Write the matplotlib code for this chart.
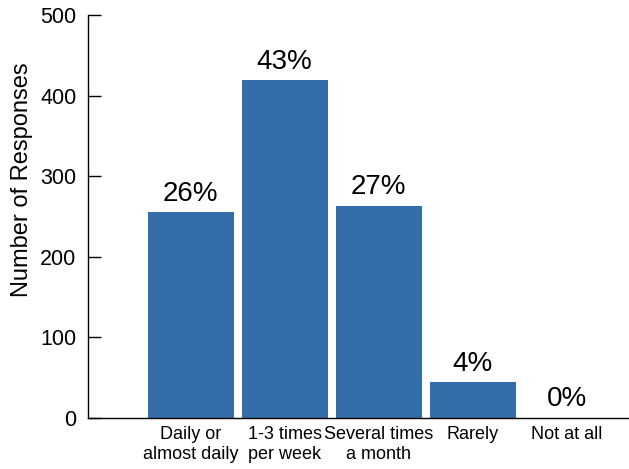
import matplotlib
matplotlib.use('Agg')
import matplotlib.pyplot as plt
import numpy as np

categories = ['Daily or\nalmost daily', '1-3 times\nper week', 'Several times\na month', 'Rarely', 'Not at all']
responses = [255, 419, 263, 44, 0]
pct_labels = ['26%', '43%', '27%', '4%', '0%']

plt.rcParams['font.family'] = ['Liberation Sans', 'DejaVu Sans']

fig = plt.figure(figsize=(6.29, 4.69), dpi=100)
ax = fig.add_axes([0.14, 0.1094, 0.86, 0.8586])

x = np.arange(len(categories))
bars = ax.bar(x, responses, width=0.915, color='#336eab')

# percentage share above each bar
for b, lab in zip(bars, pct_labels):
    ax.annotate(lab, (b.get_x() + b.get_width() / 2, b.get_height()),
                xytext=(0, 4), textcoords='offset points',
                ha='center', va='bottom', fontsize=20)

ax.set_xlim(-1.09, 4.66)
ax.set_ylim(0, 500)
ax.set_yticks(range(0, 501, 100))
ax.set_xticks(x)
ax.set_xticklabels(categories, fontsize=13, linespacing=1.2)

for s in ['top', 'right']:
    ax.spines[s].set_visible(False)
for s in ['left', 'bottom']:
    ax.spines[s].set_linewidth(1.0)

ax.tick_params(axis='y', direction='in', length=9.4, width=1.0, pad=8.5, labelsize=15.5)
ax.tick_params(axis='x', length=0, pad=6)

ax.set_ylabel('Number of Responses', fontsize=17)
ax.yaxis.set_label_coords(-0.102, 0.59)

fig.savefig('out.png', dpi=100)
